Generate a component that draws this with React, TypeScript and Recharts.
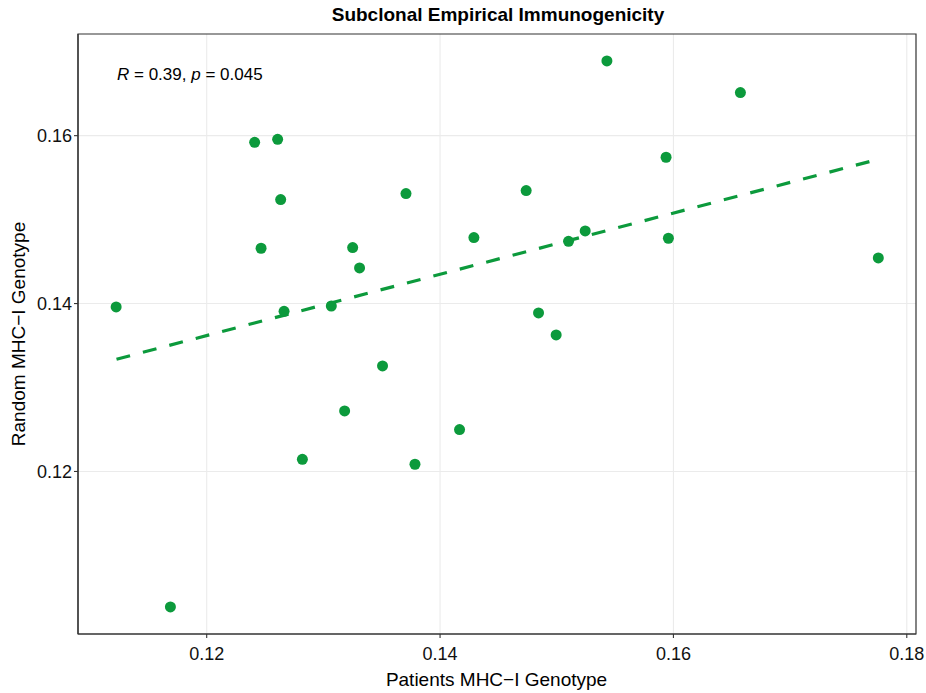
import React from "react";
import {
  ScatterChart,
  Scatter,
  XAxis,
  YAxis,
  CartesianGrid,
  ReferenceLine,
  ReferenceArea,
} from "recharts";

// Patients MHC-I genotype (x) vs random MHC-I genotype (y)
const patientsScore = [
  0.11224, 0.11689, 0.12411, 0.12608, 0.12634, 0.12466, 0.12663, 0.1282, 0.13068,
  0.13182, 0.13251, 0.1331, 0.13507, 0.13708, 0.13785, 0.14167, 0.1429, 0.14738,
  0.14844, 0.14995, 0.15101, 0.15244, 0.1543, 0.15937, 0.15957, 0.16574, 0.17756,
];
const randomScore = [
  0.1396, 0.10386, 0.15921, 0.15957, 0.15239, 0.14659, 0.13908, 0.12145, 0.13971,
  0.12721, 0.14667, 0.14424, 0.13257, 0.1531, 0.12086, 0.12499, 0.14786, 0.15346,
  0.13888, 0.13626, 0.14742, 0.14865, 0.1689, 0.15743, 0.14778, 0.16513, 0.14543,
];

// fitted line end points
const fitX = [0.11227, 0.1768];
const fitY = [0.13337, 0.15691];

const xTicks = [0.12, 0.14, 0.16, 0.18];
const yTicks = [0.12, 0.14, 0.16];
const xDomain = [0.10897, 0.18079];
const yDomain = [0.10064, 0.17211];

const GREEN = "#0c9a3c";
const FONT = "'Liberation Sans', Arial, sans-serif";

const points = patientsScore.map((x, i) => ({ x, y: randomScore[i] }));

export default function App() {
  return (
    <div style={{ position: "absolute", left: 0, top: 0, width: 926, height: 693, background: "#fff" }}>
      <ScatterChart
        width={926}
        height={693}
        margin={{ top: 34, right: 10, bottom: 0, left: 0 }}
      >
        <CartesianGrid stroke="#ebebeb" strokeWidth={1.1} horizontalValues={yTicks} verticalValues={xTicks} />
        <XAxis
          type="number"
          dataKey="x"
          domain={xDomain}
          allowDataOverflow
          ticks={xTicks}
          tickFormatter={(v: number) => v.toFixed(2)}
          height={59}
          tickSize={4}
          tickMargin={9}
          axisLine={{ stroke: "#333", strokeWidth: 1.2 }}
          tickLine={{ stroke: "#333", strokeWidth: 1.1 }}
          tick={{ fontSize: 18, fill: "#111", fontFamily: FONT }}
        />
        <YAxis
          type="number"
          dataKey="y"
          domain={yDomain}
          allowDataOverflow
          ticks={yTicks}
          tickFormatter={(v: number) => v.toFixed(2)}
          width={78}
          tickSize={4}
          tickMargin={2}
          axisLine={{ stroke: "#333", strokeWidth: 1.2 }}
          tickLine={{ stroke: "#333", strokeWidth: 1.1 }}
          tick={{ fontSize: 18, fill: "#111", fontFamily: FONT }}
        />
        <ReferenceArea
          x1={xDomain[0]}
          x2={xDomain[1]}
          y1={yDomain[0]}
          y2={yDomain[1]}
          fill="none"
          stroke="#333"
          strokeWidth={1.2}
        />
        <ReferenceLine
          segment={[
            { x: fitX[0], y: fitY[0] },
            { x: fitX[1], y: fitY[1] },
          ]}
          stroke={GREEN}
          strokeWidth={3.2}
          strokeDasharray="14 13.3"
        />
        <Scatter
          data={points}
          fill={GREEN}
          isAnimationActive={false}
          shape={(p: any) => <circle cx={p.cx} cy={p.cy} r={5.5} fill={GREEN} />}
        />
      </ScatterChart>
      <svg
        width={926}
        height={693}
        style={{ position: "absolute", left: 0, top: 0, pointerEvents: "none" }}
        fontFamily={FONT}
      >
        <text x={498} y={20.7} textAnchor="middle" fontSize={19} fontWeight="bold" fill="#000">
          Subclonal Empirical Immunogenicity
        </text>
        <text x={117} y={80} fontSize={17} fill="#000">
          <tspan fontStyle="italic">R</tspan> = 0.39, <tspan fontStyle="italic">p</tspan> = 0.045
        </text>
        <text x={496.5} y={686} textAnchor="middle" fontSize={19} fill="#000">
          Patients MHC−I Genotype
        </text>
        <text
          x={25}
          y={334}
          textAnchor="middle"
          fontSize={19}
          fill="#000"
          transform="rotate(-90 25 334)"
        >
          Random MHC−I Genotype
        </text>
      </svg>
    </div>
  );
}
